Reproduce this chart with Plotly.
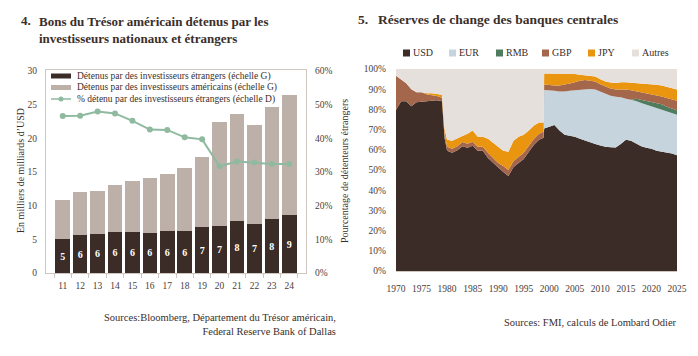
import plotly.graph_objects as go

# ---------------- Chart 4 data ----------------
years_short = ["11", "12", "13", "14", "15", "16", "17", "18", "19", "20", "21", "22", "23", "24"]
foreign = [5.05, 5.6, 5.75, 6.1, 6.1, 5.95, 6.2, 6.2, 6.8, 7.05, 7.7, 7.25, 7.95, 8.55]
domestic = [5.75, 6.4, 6.45, 7.0, 7.5, 8.15, 8.45, 9.45, 10.5, 15.45, 15.9, 14.75, 16.75, 17.85]
pct_foreign = [46.6, 46.7, 48.0, 47.4, 45.2, 42.6, 42.5, 40.3, 39.7, 31.7, 33.1, 32.8, 32.4, 32.4]
y_ticks4 = [0, 5, 10, 15, 20, 25, 30]
y2_ticks4 = [0, 10, 20, 30, 40, 50, 60]

# ---------------- Chart 5 data ----------------
years = [1970, 1971, 1972, 1973, 1974, 1975, 1976, 1977, 1978, 1979, 1979.5,
         1980, 1981, 1982, 1983, 1984, 1985, 1986, 1987, 1988, 1989,
         1990, 1991, 1992, 1993, 1994, 1995, 1996, 1997, 1998, 1998.9,
         1999, 2000, 2001, 2002, 2003, 2004, 2005, 2006, 2007, 2008,
         2009, 2010, 2011, 2012, 2013, 2014, 2015, 2016, 2017, 2018,
         2019, 2020, 2021, 2022, 2023, 2024, 2025]
usd = [79.7, 84.0, 84.0, 81.5, 83.5, 83.8, 84.0, 84.3, 84.5, 84.0, 66.0,
       59.5, 58.5, 59.8, 61.8, 61.0, 62.0, 59.5, 59.5, 56.0, 53.5,
       51.0, 49.0, 47.0, 51.5, 53.5, 55.5, 59.0, 62.5, 65.0, 66.0,
       70.5, 71.5, 72.3, 69.5, 67.5, 67.0, 66.5, 65.5, 64.5, 63.7,
       62.9, 62.1, 61.5, 61.3, 61.2, 62.9, 65.0, 64.5, 62.9, 61.7,
       61.0, 60.5, 59.5, 59.1, 58.6, 58.2, 57.3]
eur = [0, 0, 0, 0, 0, 0, 0, 0, 0, 0, 0,
       0, 0, 0, 0, 0, 0, 0, 0, 0, 0,
       0, 0, 0, 0, 0, 0, 0, 0, 0, 0,
       19.1, 18.0, 16.9, 19.3, 21.3, 22.2, 22.9, 24.1, 25.5, 26.4,
       26.9, 26.7, 26.3, 25.5, 25.1, 23.1, 20.3, 20.3, 21.3, 21.5,
       21.4, 20.9, 21.1, 20.7, 20.3, 19.9, 20.1]
rmb = [0, 0, 0, 0, 0, 0, 0, 0, 0, 0, 0,
       0, 0, 0, 0, 0, 0, 0, 0, 0, 0,
       0, 0, 0, 0, 0, 0, 0, 0, 0, 0,
       0, 0, 0, 0, 0, 0, 0, 0, 0, 0,
       0, 0, 0, 0, 0, 0, 0, 0, 1.1, 1.6,
       1.9, 2.2, 2.6, 2.7, 2.4, 2.3, 2.2]
gbp = [17.0, 11.0, 9.0, 8.5, 5.0, 4.7, 3.5, 2.7, 2.1, 1.8, 2.0,
       2.0, 2.0, 2.0, 2.0, 2.0, 2.0, 2.0, 2.0, 2.5, 2.5,
       2.5, 3.0, 3.0, 3.0, 3.0, 3.0, 3.0, 3.0, 3.0, 3.0,
       2.7, 2.5, 2.6, 3.0, 3.4, 3.6, 4.0, 4.6, 4.6, 4.2,
       4.0, 3.6, 3.5, 3.5, 3.6, 3.9, 4.5, 4.7, 3.7, 3.5,
       3.5, 3.7, 3.6, 3.9, 4.3, 4.5, 4.7]
jpy = [0, 0, 0, 0, 0, 0, 0.5, 1.0, 1.0, 1.5, 2.5,
       3.5, 4.0, 3.7, 3.0, 5.0, 5.5, 5.0, 5.0, 7.0, 7.5,
       8.0, 7.5, 9.0, 10.0, 10.0, 9.0, 7.5, 6.5, 5.5, 4.5,
       5.5, 5.8, 6.0, 5.9, 5.5, 4.8, 4.1, 3.0, 2.4, 2.5,
       2.5, 2.5, 2.5, 3.0, 3.2, 3.5, 3.7, 3.7, 4.0, 4.5,
       4.9, 5.3, 5.4, 5.4, 5.6, 5.6, 5.5]
autres = [round(100 - (a + b + c + d + e), 2) for a, b, c, d, e in zip(usd, eur, rmb, gbp, jpy)]

x_ticks5 = list(range(1970, 2026, 5))
y_ticks5 = list(range(0, 101, 10))

# ---------------- styling ----------------
# The page body has a default 8px margin, so the figure is sized to fill the
# rest of the 698x356 window and page coordinates are offset by 8px.
OFF = 8
W, H = 698 - OFF, 356 - OFF
FONT = "Liberation Serif"
TXT = "#3a2e2a"
TICK = "#4a3d39"
FRAME = "#cfc6c1"
C_DARK = "#3b2c28"
C_TAUPE = "#bdb0a8"
C_LINE = "#8fbaa0"
C_USD, C_EUR, C_RMB, C_GBP, C_JPY, C_OTH = "#3b2c28", "#c6d4de", "#4f7c5f", "#a5674b", "#e9950f", "#e6e0dd"


def px(x):
    return (x - OFF) / W


def py(y):
    return 1 - (y - OFF) / H


fig = go.Figure()

# ---- chart 4 traces ----
fig.add_trace(go.Bar(
    x=years_short, y=foreign, name="Détenus par des investisseurs étrangers (échelle G)",
    marker=dict(color=C_DARK, line=dict(width=0)),
    texttemplate="%{y:.0f}", textposition="inside", insidetextanchor="middle", textangle=0,
    textfont=dict(color="white", size=10, family=FONT, weight="bold"),
    xaxis="x", yaxis="y", showlegend=False))
fig.add_trace(go.Bar(
    x=years_short, y=domestic, name="Détenus par des investisseurs américains (échelle G)",
    marker=dict(color=C_TAUPE, line=dict(width=0)),
    xaxis="x", yaxis="y", showlegend=False))
fig.add_trace(go.Scatter(
    x=years_short, y=pct_foreign, name="% détenu par des investisseurs étrangers (échelle D)",
    mode="lines+markers", line=dict(color=C_LINE, width=2),
    marker=dict(color=C_LINE, size=6),
    xaxis="x", yaxis="y2", showlegend=False))

# ---- chart 5 traces ----
for name, vals, col in [("USD", usd, C_USD), ("EUR", eur, C_EUR), ("RMB", rmb, C_RMB),
                        ("GBP", gbp, C_GBP), ("JPY", jpy, C_JPY), ("Autres", autres, C_OTH)]:
    fig.add_trace(go.Scatter(
        x=years, y=vals, name=name, stackgroup="one", mode="lines",
        line=dict(width=0, color=col), fillcolor=col,
        xaxis="x2", yaxis="y3", showlegend=False))

tf = dict(size=9.5, color=TICK)
fig.update_layout(
    width=W, height=H, autosize=False,
    margin=dict(l=0, r=0, t=0, b=0, pad=0),
    paper_bgcolor="white", plot_bgcolor="white",
    font=dict(family=FONT, color=TICK, size=10),
    barmode="stack", bargap=0.16,
    xaxis=dict(domain=[px(46), px(306)], type="category", automargin=False, tickangle=0,
               showline=True, mirror=True, linecolor=FRAME, linewidth=1,
               ticks="outside", tickson="boundaries", ticklen=4, tickcolor=FRAME,
               showgrid=False, tickfont=tf, ticklabelstandoff=4),
    yaxis=dict(domain=[py(273), py(70)], range=[0, 30.15], automargin=False,
               tickmode="array", tickvals=y_ticks4, ticktext=[str(v) for v in y_ticks4],
               showline=True, mirror=True, linecolor=FRAME, linewidth=1,
               showgrid=False, zeroline=False, ticks="",
               tickfont=tf, ticklabelstandoff=6),
    yaxis2=dict(overlaying="y", side="right", range=[0, 60.3], automargin=False,
                tickmode="array", tickvals=y2_ticks4, ticktext=[f"{v}%" for v in y2_ticks4],
                showgrid=False, zeroline=False, showline=False, ticks="",
                tickfont=tf, ticklabelstandoff=8),
    xaxis2=dict(domain=[px(396), px(677)], anchor="y3", range=[1970, 2025], automargin=False,
                tickmode="array", tickvals=x_ticks5, ticktext=[str(v) for v in x_ticks5],
                tickangle=0, showgrid=False, zeroline=False, showline=True, linecolor=FRAME,
                ticks="", tickfont=tf, ticklabelstandoff=9),
    yaxis3=dict(domain=[py(271), py(69)], anchor="x2", range=[0, 100], automargin=False,
                tickmode="array", tickvals=y_ticks5, ticktext=[f"{v}%" for v in y_ticks5],
                showgrid=False, zeroline=False, showline=False, ticks="",
                tickfont=tf, ticklabelstandoff=9),
)

ann = []
shapes = []
# titles
ann.append(dict(text="<b>4.</b>", x=px(19), y=py(21), xanchor="left", yanchor="middle",
                font=dict(size=13, color=TXT)))
ann.append(dict(text="<b>Bons du Trésor américain détenus par les<br>investisseurs nationaux et étrangers</b>",
                x=px(37), y=py(12), xanchor="left", yanchor="top", align="left",
                font=dict(size=13, color=TXT)))
ann.append(dict(text="<b>5.</b>", x=px(356), y=py(20), xanchor="left", yanchor="middle",
                font=dict(size=13.5, color=TXT)))
ann.append(dict(text="<b>Réserves de change des banques centrales</b>", x=px(376), y=py(20),
                xanchor="left", yanchor="middle", font=dict(size=13.5, color=TXT)))
# axis titles
ann.append(dict(text="En milliers de milliards d’USD", x=px(20), y=py(171), textangle=-90,
                xanchor="center", yanchor="middle", font=dict(size=10, color=TXT)))
ann.append(dict(text="Pourcentage de détenteurs étrangers", x=px(344), y=py(171), textangle=-90,
                xanchor="center", yanchor="middle", font=dict(size=10, color=TXT)))
# sources
ann.append(dict(text="Sources:Bloomberg, Département du Trésor américain,<br>Federal Reserve Bank of Dallas",
                x=px(338), y=py(310), xanchor="right", yanchor="top", align="right",
                font=dict(size=10.5, color=TXT)))
ann.append(dict(text="Sources: FMI, calculs de Lombard Odier", x=px(679), y=py(322),
                xanchor="right", yanchor="middle", font=dict(size=10.5, color=TXT)))

# legend chart 4 (manual)
leg4 = [("Détenus par des investisseurs étrangers (échelle G)", "bar", C_DARK, 76),
        ("Détenus par des investisseurs américains (échelle G)", "bar", C_TAUPE, 87.5),
        ("% détenu par des investisseurs étrangers (échelle D)", "line", C_LINE, 99)]
for label, kind, col, yy in leg4:
    if kind == "bar":
        shapes.append(dict(type="rect", xref="paper", yref="paper", x0=px(51), x1=px(71),
                           y0=py(yy + 2.5), y1=py(yy - 2.5), fillcolor=col, line=dict(width=0)))
    else:
        shapes.append(dict(type="line", xref="paper", yref="paper", x0=px(51), x1=px(71),
                           y0=py(yy), y1=py(yy), line=dict(color=col, width=1.5)))
        shapes.append(dict(type="circle", xref="paper", yref="paper", x0=px(58.5), x1=px(63.5),
                           y0=py(yy + 2.5), y1=py(yy - 2.5), fillcolor=col, line=dict(width=0)))
    ann.append(dict(text=label, x=px(75), y=py(yy), xanchor="left", yanchor="middle",
                    font=dict(size=9.5, color=TXT)))

# legend chart 5 (manual)
leg5 = [("USD", C_USD, 403), ("EUR", C_EUR, 449), ("RMB", C_RMB, 496),
        ("GBP", C_GBP, 542), ("JPY", C_JPY, 588), ("Autres", C_OTH, 632)]
for label, col, xx in leg5:
    shapes.append(dict(type="rect", xref="paper", yref="paper", x0=px(xx), x1=px(xx + 7),
                       y0=py(56.5), y1=py(49.5), fillcolor=col, line=dict(width=0)))
    ann.append(dict(text=label, x=px(xx + 8), y=py(53), xanchor="left", yanchor="middle",
                    font=dict(size=10, color=TXT)))

for a in ann:
    a.setdefault("xref", "paper")
    a.setdefault("yref", "paper")
    a["showarrow"] = False
fig.update_layout(annotations=ann, shapes=shapes)

fig.write_html("out.html")
